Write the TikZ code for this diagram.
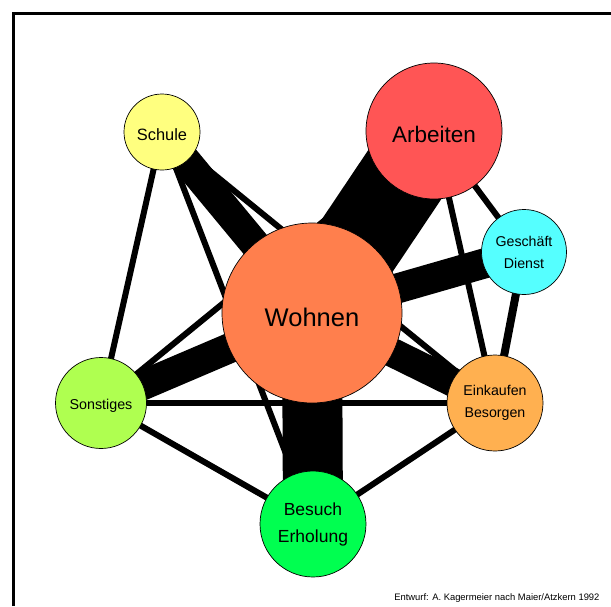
\documentclass[tikz,border=0pt]{standalone}
\usepackage{fontspec}
\setmainfont{Liberation Sans}
\usetikzlibrary{backgrounds}
\definecolor{wohnenfarbe}{RGB}{255,127,77}
\definecolor{arbeitenfarbe}{RGB}{255,85,85}
\definecolor{schulefarbe}{RGB}{255,255,127}
\definecolor{geschaeftfarbe}{RGB}{85,255,255}
\definecolor{einkaufenfarbe}{RGB}{255,176,80}
\definecolor{sonstigesfarbe}{RGB}{175,255,80}
\definecolor{besuchfarbe}{RGB}{0,255,80}

\begin{document}
\begin{tikzpicture}[x=1pt,y=-1pt,
  ort/.style={circle,draw=black,line width=0.7pt,inner sep=0pt,align=center,execute at begin node={\rule{0pt}{1.05em}}},
  weg/.style={line width=6pt}]
\useasboundingbox (0,0) rectangle (611,606);
\draw[line width=3pt] (13,606) -- (13,13) -- (611,13);

\node[ort,fill=wohnenfarbe,minimum size=180pt,font=\fontsize{25.5}{30}\selectfont] (wohnen) at (312,313) {Wohnen};
\node[ort,fill=arbeitenfarbe,minimum size=136pt,font=\fontsize{22.5}{27}\selectfont] (arbeiten) at (434,131) {Arbeiten};
\node[ort,fill=schulefarbe,minimum size=76pt,font=\fontsize{16.4}{20}\selectfont] (schule) at (162,132) {Schule};
\node[ort,fill=geschaeftfarbe,minimum size=85pt,font=\fontsize{14.2}{22}\selectfont] (geschaeft) at (524,252) {Geschäft\\Dienst};
\node[ort,fill=einkaufenfarbe,minimum size=96pt,font=\fontsize{14.2}{22}\selectfont] (einkaufen) at (495,403) {Einkaufen\\Besorgen};
\node[ort,fill=sonstigesfarbe,minimum size=91pt,font=\fontsize{14.3}{18}\selectfont] (sonstiges) at (101,403) {Sonstiges};
\node[ort,fill=besuchfarbe,minimum size=106pt,font=\fontsize{17.5}{27}\selectfont] (besuch) at (313,524) {Besuch\\Erholung};

\begin{pgfonlayer}{background}
\foreach \a/\b in {schule/sonstiges,schule/besuch,schule/einkaufen,sonstiges/arbeiten,
  sonstiges/einkaufen,sonstiges/besuch,besuch/einkaufen,arbeiten/geschaeft,arbeiten/einkaufen}
  \draw[weg] (\a.center) -- (\b.center);
\draw[line width=8pt] (geschaeft.center) -- (einkaufen.center);
\draw[line width=88pt] (wohnen.center) -- (arbeiten.center);
\draw[line width=60pt] (wohnen.center) -- (besuch.center);
\draw[line width=30pt] (wohnen.center) -- (schule.center);
\draw[line width=30pt] (wohnen.center) -- (geschaeft.center);
\draw[line width=30pt] (wohnen.center) -- (sonstiges.center);
\draw[line width=29pt] (wohnen.center) -- (einkaufen.center);
\end{pgfonlayer}

\node[anchor=base east,font=\fontsize{9.4}{11}\selectfont] (quelle) at (603,600) {Entwurf: A. Kagermeier nach Maier/Atzkern 1992};
\end{tikzpicture}
\end{document}
